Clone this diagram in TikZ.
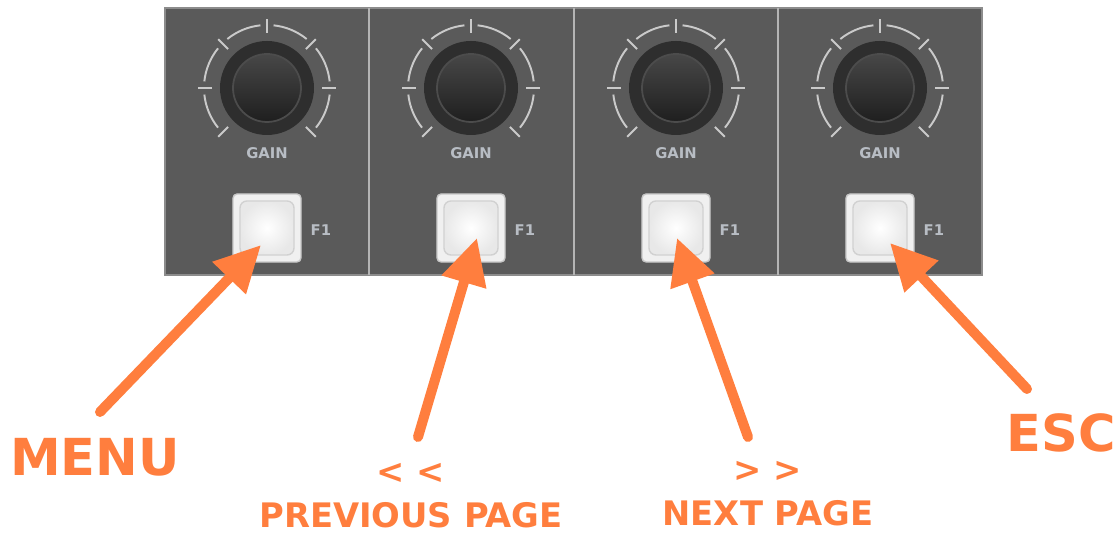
\documentclass[tikz,border=0pt]{standalone}
\usepackage{fontspec}
\setmainfont{DejaVu Sans}
\usetikzlibrary{arrows.meta,calc}
\definecolor{panelgray}{HTML}{5A5A5A}
\definecolor{divgray}{HTML}{B4B4B4}
\definecolor{knobring}{HTML}{2E2E2E}
\definecolor{tickgray}{HTML}{CACACA}
\definecolor{labelgray}{HTML}{B8BDC4}
\definecolor{callout}{HTML}{FF7E3E}
\tikzset{
  divider/.style={draw=divgray, line width=0.6pt},
  tickline/.style={draw=tickgray, line width=0.55pt},
  panellabel/.style={text=labelgray, font=\bfseries\fontsize{4.2}{5}\selectfont, inner sep=0pt},
  btnouter/.style={draw=black!22, fill=black!6, rounded corners=1.2pt, minimum size=0.68cm, inner sep=0pt},
  btninner/.style={draw=black!18, rounded corners=2pt, minimum size=0.54cm, inner sep=0pt,
    shading=radial, inner color=white, outer color=black!9},
  callarrow/.style={draw=callout, line width=2.85pt, line cap=round,
    -{Triangle[length=0.46cm, width=0.44cm]}},
  bigcall/.style={text=callout, font=\bfseries\fontsize{14.5}{16}\selectfont, inner sep=0pt},
  pagecall/.style={text=callout, font=\bfseries\fontsize{9.6}{12.5}\selectfont, align=center, inner sep=0pt}
}
\begin{document}
\begin{tikzpicture}[x=0.01cm, y=0.01cm]
  \useasboundingbox (0,0) rectangle (1120,537);
  % panel
  \path[fill=panelgray, draw=black!45, line width=0.4pt](165,262) rectangle (982,529);
  \foreach \x in {369,574,778}
    \path[divider](\x,262)--(\x,529);
  % channel strips
  \foreach \i/\x in {1/267,2/471,3/676,4/880}{
    % knob
    \coordinate(knob\i)at(\x,449);
    \path[fill=knobring](knob\i)circle(47);
    \path[top color=black!72, bottom color=black!88, draw=black!70, line width=0.5pt](knob\i)circle(34);
    \foreach \a in {225,180,135,90,45,0,-45}
      \path[tickline](knob\i) ++(\a:55) -- ++(\a:14);
    \foreach \s/\e in {219/186,174/141,129/96,84/51,39/6,-6/-39}
      \path[tickline](knob\i) ++(\s:63) arc[start angle=\s, end angle=\e, radius=63];
    \node[panellabel](gain\i)at(\x,384){GAIN};
    % button
    \node[btnouter](btn\i)at(\x,309){};
    \node[btninner](pad\i)at(btn\i){};
    \node[panellabel, anchor=west](fkey\i)at(\x+43,307){F1};
  }
  % callouts
  \node[bigcall](menu)at(95,80){MENU};
  \node[bigcall](esc)at(1061,104){ESC};
  \node[pagecall](prev)at(411,41){<~<\\PREVIOUS PAGE};
  \node[pagecall](next)at(768,43){>~>\\NEXT PAGE};
  \coordinate(tail1)at(100,125);  \coordinate(tip1)at(261,292);
  \coordinate(tail2)at(418,100);  \coordinate(tip2)at(477,299);
  \coordinate(tail3)at(748,100);  \coordinate(tip3)at(677,299);
  \coordinate(tail4)at(1027,148); \coordinate(tip4)at(890,294);
  \foreach \i in {1,...,4}
    \path[callarrow](tail\i)--(tip\i);
\end{tikzpicture}
\end{document}
